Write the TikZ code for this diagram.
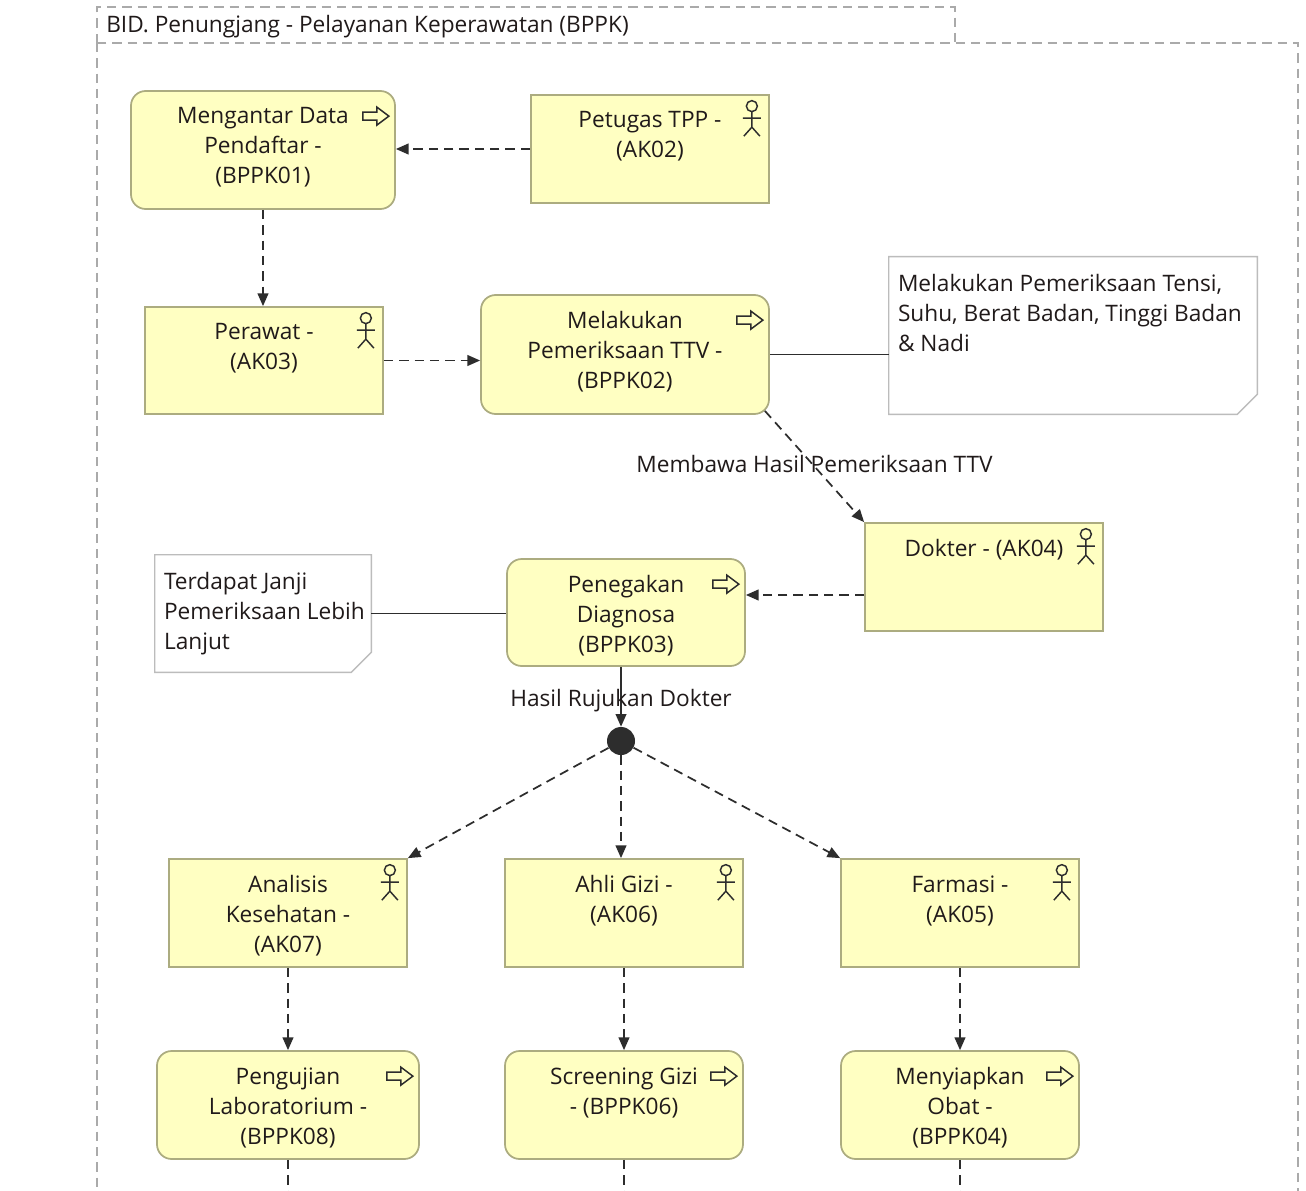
\documentclass[tikz,border=0pt]{standalone}
\usepackage{fontspec}
\setmainfont{Open Sans}
\usetikzlibrary{arrows.meta,calc}

\definecolor{boxfill}{RGB}{255,255,194}
\definecolor{boxline}{RGB}{172,172,128}
\definecolor{noteline}{RGB}{188,188,188}
\definecolor{grpline}{RGB}{170,170,170}
\definecolor{wire}{RGB}{45,45,45}
\definecolor{ink}{RGB}{32,26,26}

\tikzset{
  sz/.style 2 args={minimum width=#1*0.75pt, minimum height=#2*0.75pt},
  actorbox/.style={draw=boxline, fill=boxfill, line width=1.3pt, inner sep=0pt},
  procbox/.style={actorbox, rounded corners=11pt},
  notebox/.style={inner sep=0pt},
  txt/.style={font=\fontsize{17}{22.5}\selectfont, text=ink, align=center,
              inner sep=0pt, anchor=north, execute at begin node=\strut},
  notetxt/.style={txt, align=left, anchor=north west},
  flowlbl/.style={font=\fontsize{17}{22.5}\selectfont, text=ink, inner sep=0pt},
  flow/.style={draw=wire, line width=1.3pt, dash pattern=on 7pt off 4.5pt,
               -{Triangle[length=9.5pt,width=8pt]}},
  trig/.style={draw=wire, line width=1.3pt, -{Triangle[length=9.5pt,width=8pt]}},
  assoc/.style={draw=wire, line width=1.4pt},
  tail/.style={draw=wire, line width=1.3pt, dash pattern=on 7pt off 4.5pt},
  actor/.pic={
    \draw[wire, line width=1.1pt] (0,0) circle[radius=5.5*0.75pt]
      (0,5.5) -- (0,21) (-9,12) -- (9,12) (-8,30) -- (0,21) -- (8,30);
  },
  process/.pic={
    \draw[wire, line width=1.1pt, line join=miter]
      (-13,-4) -- (1,-4) -- (1,-9) -- (13,0) -- (1,9) -- (1,4) -- (-13,4) -- cycle;
  }
}

\begin{document}
\begin{tikzpicture}[x=0.75pt, y=-0.75pt]
\useasboundingbox (0,0) rectangle (1306,1191);
\clip (0,0) rectangle (1306,1191);
\fill[white] (0,0) rectangle (1306,1191);

% group frame with its title tab
\draw[grpline, line width=1.1pt, dash pattern=on 7pt off 4.5pt]
  (97,43) rectangle (955,7)
  (97,43) -- (97,1200)
  (97,43) -- (1298,43) -- (1298,1200);
\node[flowlbl, anchor=base west] (grouptitle) at (106,33)
  {BID. Penungjang - Pelayanan Keperawatan (BPPK)};

% actors and processes
\node[procbox,  sz={264}{118}] (b01) at (263,150) {};
\node[actorbox, sz={238}{108}] (a02) at (650,149) {};
\node[actorbox, sz={238}{107}] (a03) at (264,360.5) {};
\node[procbox,  sz={288}{119}] (b02) at (625,354.5) {};
\node[notebox,  sz={368}{157}] (n1)  at (1073,335.5) {};
\node[actorbox, sz={238}{108}] (a04) at (984,577) {};
\node[procbox,  sz={238}{107}] (b03) at (626,612.5) {};
\node[notebox,  sz={216}{117}] (n2)  at (263,613.5) {};
\node[circle, fill=wire, inner sep=0pt, minimum size=21pt] (j) at (621,741) {};
\node[actorbox, sz={238}{108}] (a07) at (288,913) {};
\node[actorbox, sz={238}{108}] (a06) at (624,913) {};
\node[actorbox, sz={238}{108}] (a05) at (960,913) {};
\node[procbox,  sz={262}{108}] (b08) at (288,1105) {};
\node[procbox,  sz={238}{108}] (b06) at (624,1105) {};
\node[procbox,  sz={238}{108}] (b04) at (960,1105) {};

% note outlines with the folded corner
\foreach \n in {n1,n2}{
  \draw[noteline, line width=1.1pt] (\n.north west) -- (\n.north east)
    -- ($(\n.south east)+(0,-20)$) -- ($(\n.south east)+(-20,0)$)
    -- (\n.south west) -- cycle;
}

% element icons
\foreach \n in {a02,a03,a04,a07,a06,a05}{
  \pic at ($(\n.north east)+(-18,12)$) {actor};
}
\foreach \n in {b01,b02,b03,b08,b06,b04}{
  \pic at ($(\n.north east)+(-20,26)$) {process};
}

% element texts
\node[txt] (t01) at ($(b01.north)+(0,17)$) {Mengantar Data\\Pendaftar -\\(BPPK01)};
\node[txt] (t02) at ($(a02.north)+(0,17)$) {Petugas TPP -\\(AK02)};
\node[txt] (t03) at ($(a03.north)+(0,17)$) {Perawat -\\(AK03)};
\node[txt] (t04) at ($(b02.north)+(0,17)$) {Melakukan\\Pemeriksaan TTV -\\(BPPK02)};
\node[txt] (t05) at ($(a04.north)+(0,13)$) {Dokter - (AK04)};
\node[txt] (t06) at ($(b03.north)+(0,17)$) {Penegakan\\Diagnosa\\(BPPK03)};
\node[txt] (t07) at ($(a07.north)+(0,17)$) {Analisis\\Kesehatan -\\(AK07)};
\node[txt] (t08) at ($(a06.north)+(0,17)$) {Ahli Gizi -\\(AK06)};
\node[txt] (t09) at ($(a05.north)+(0,17)$) {Farmasi -\\(AK05)};
\node[txt] (t10) at ($(b08.north)+(0,17)$) {Pengujian\\Laboratorium -\\(BPPK08)};
\node[txt] (t11) at ($(b06.north)+(0,17)$) {Screening Gizi\\- (BPPK06)};
\node[txt] (t12) at ($(b04.north)+(0,17)$) {Menyiapkan\\Obat -\\(BPPK04)};
\node[notetxt] (t13) at ($(n1.north west)+(9,17)$)
  {Melakukan Pemeriksaan Tensi,\\Suhu, Berat Badan, Tinggi Badan\\\& Nadi};
\node[notetxt] (t14) at ($(n2.north west)+(9,17)$)
  {Terdapat Janji\\Pemeriksaan Lebih\\Lanjut};

% connectors
\draw[flow] (a02.west) -- (a02.west -| b01.east);
\draw[flow] (b01.south) -- (b01.south |- a03.north);
\draw[flow] (a03.east) -- (a03.east -| b02.west);
\draw[assoc] (b02.east) -- (b02.east -| n1.west);
\draw[flow] ($(b02.south east)+(-5,-4)$) -- (a04.north west)
  node[flowlbl, midway, yshift=2.25pt] (lbl1) {Membawa Hasil Pemeriksaan TTV};
\coordinate (p1) at ($(a04.west)+(0,18)$);
\draw[flow] (p1) -- (p1 -| b03.east);
\draw[assoc] (n2.east) -- (n2.east -| b03.west);
\draw[trig] (j |- b03.south) -- (j.north)
  node[flowlbl, midway, yshift=-2.75pt] (lbl2) {Hasil Rujukan Dokter};
\draw[flow] (j) -- (a07.north east);
\draw[flow] (j) -- (j |- a06.north);
\draw[flow] (j) -- (a05.north west);
\draw[flow] (a07.south) -- (b08.north);
\draw[flow] (a06.south) -- (b06.north);
\draw[flow] (a05.south) -- (b04.north);
\coordinate (bottom) at (0,1200);
\draw[tail] (b08.south) -- (b08.south |- bottom);
\draw[tail] (b06.south) -- (b06.south |- bottom);
\draw[tail] (b04.south) -- (b04.south |- bottom);
\end{tikzpicture}
\end{document}
